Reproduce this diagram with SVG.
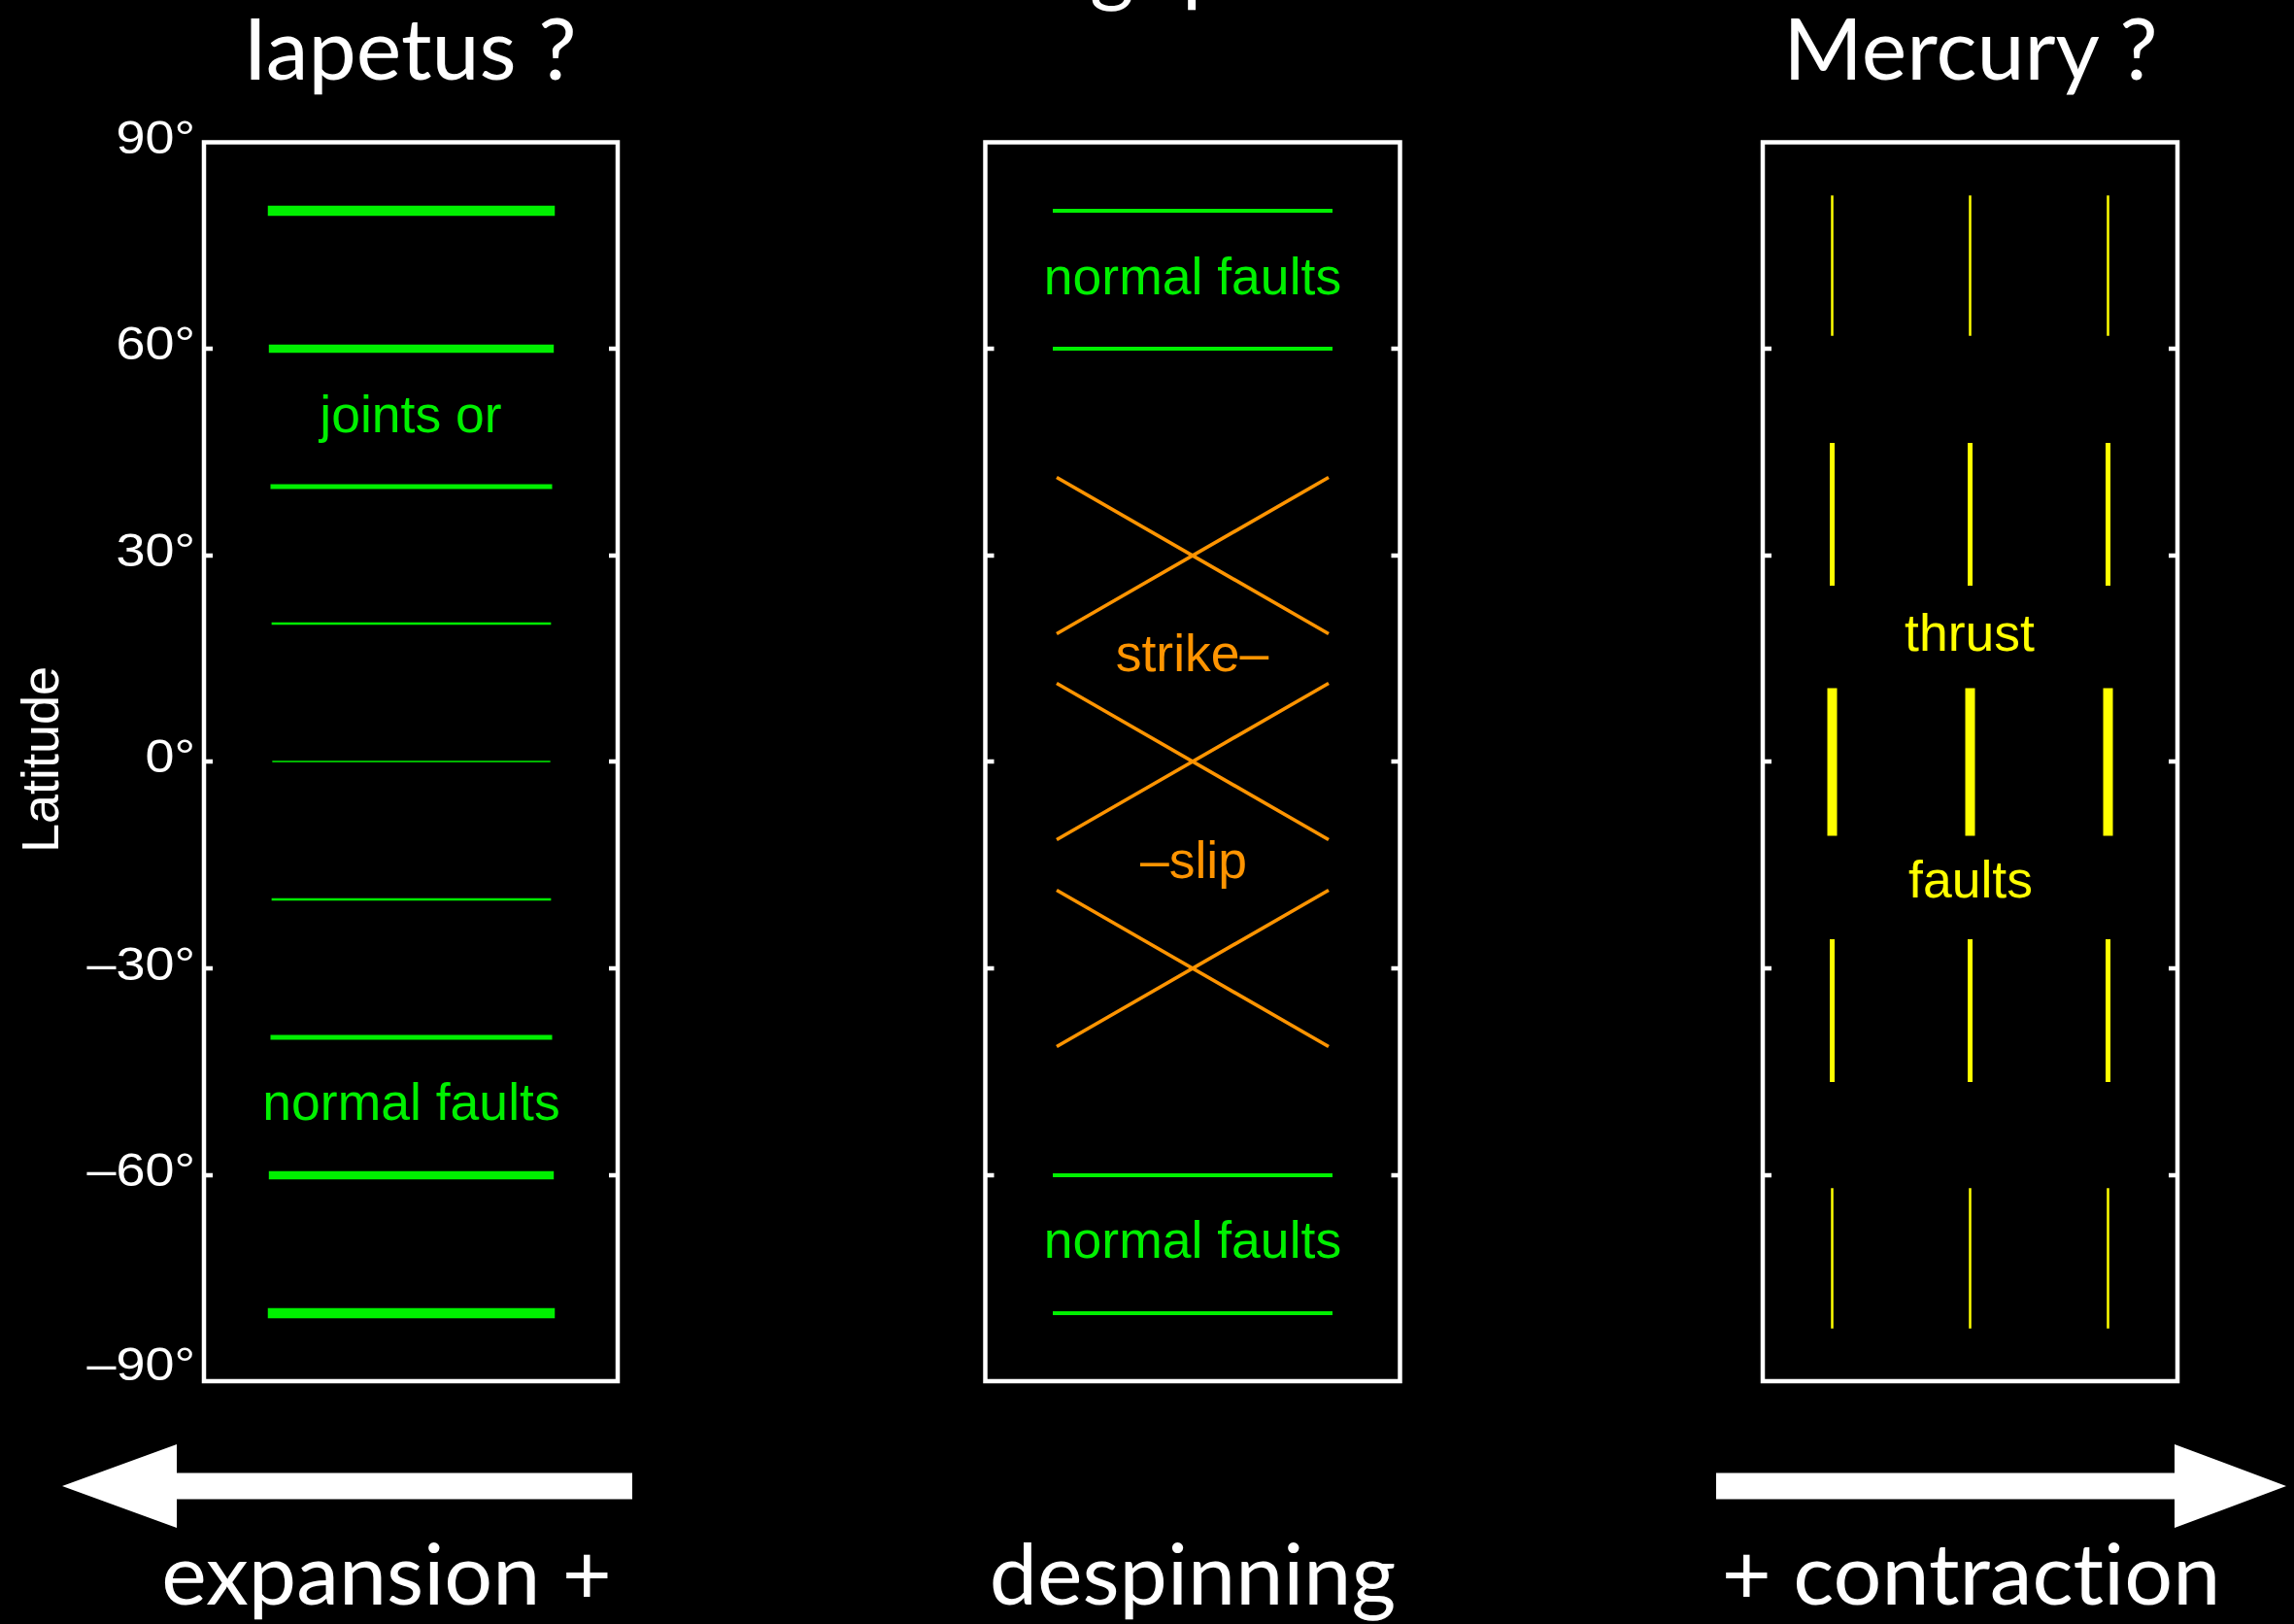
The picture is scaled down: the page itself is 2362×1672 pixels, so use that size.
<svg xmlns="http://www.w3.org/2000/svg" width="2362" height="1672" viewBox="0 0 2362 1672">
<style>
.frame{fill:none;stroke:#fff;stroke-width:4.5}
.tick{stroke:#fff;stroke-width:4.5}
.ax{font-family:"Liberation Sans",Arial,sans-serif;font-size:49px;fill:#fff;text-anchor:end}
.lbl{font-family:"Liberation Sans",Arial,sans-serif;font-size:53.5px;text-anchor:middle}
.big{font-family:Lato,"Open Sans",sans-serif;font-size:88px;fill:#fff;text-anchor:middle;font-variant-ligatures:none}
.gt{fill:#00f000}
.ot{fill:#ff9400}
.yt{fill:#ffff00}
.gl{stroke:#00f000;stroke-linecap:square}
.ol{stroke:#ff9400;stroke-width:3.6}
.yl{stroke:#ffff00;stroke-linecap:square}
.arrow{fill:#fff}
</style>
<rect width="2362" height="1672" fill="#000"/>

<!-- heading line above the top edge: only the descenders reach into view -->
<text font-family="Lato, 'Open Sans', sans-serif" font-size="88" fill="#fff"><tspan x="1122" y="-5">g</tspan><tspan x="1217" y="-5">p</tspan></text>

<!-- column headings -->
<g id="headings">
  <text class="big" x="422" y="82">Iapetus ?</text>
  <text class="big" x="2029" y="82">Mercury ?</text>
</g>

<!-- latitude axis -->
<g id="axis">
  <text class="ax" transform="translate(201,158) scale(1.1,1)">90°</text>
  <text class="ax" transform="translate(201,370) scale(1.1,1)">60°</text>
  <text class="ax" transform="translate(201,583) scale(1.1,1)">30°</text>
  <text class="ax" transform="translate(201,795) scale(1.1,1)">0°</text>
  <text class="ax" transform="translate(201,1009) scale(1.1,1)">–30°</text>
  <text class="ax" transform="translate(201,1221) scale(1.1,1)">–60°</text>
  <text class="ax" transform="translate(201,1421) scale(1.1,1)">–90°</text>
  <text transform="translate(60,782) rotate(-90)" font-family="Liberation Sans, Arial, sans-serif" font-size="54" fill="#fff" text-anchor="middle">Latitude</text>
</g>

<!-- expansion: east-west joints / normal faults, thickest near the poles -->
<g id="panel-iapetus">
  <rect class="frame" x="210" y="146.5" width="426" height="1275.5"/>
  <path class="tick" d="M210 359h9M210 572h9M210 784h9M210 997h9M210 1210h9M636 359h-9M636 572h-9M636 784h-9M636 997h-9M636 1210h-9"/>
  <line class="gl" x1="281" y1="217" x2="566" y2="217" stroke-width="10.5"/>
  <line class="gl" x1="281" y1="359" x2="566" y2="359" stroke-width="8.4"/>
  <line class="gl" x1="281" y1="501" x2="566" y2="501" stroke-width="5"/>
  <line class="gl" x1="281" y1="642" x2="566" y2="642" stroke-width="2.7"/>
  <line class="gl" x1="281" y1="784" x2="566" y2="784" stroke-width="1.3"/>
  <line class="gl" x1="281" y1="926" x2="566" y2="926" stroke-width="2.7"/>
  <line class="gl" x1="281" y1="1068" x2="566" y2="1068" stroke-width="5"/>
  <line class="gl" x1="281" y1="1210" x2="566" y2="1210" stroke-width="8.4"/>
  <line class="gl" x1="281" y1="1352" x2="566" y2="1352" stroke-width="10.5"/>
  <text class="lbl gt" x="423" y="445">joints or</text>
  <text class="lbl gt" x="423.5" y="1153">normal faults</text>
</g>

<!-- despinning: polar normal faults, strike-slip at mid latitudes -->
<g id="panel-despinning">
  <rect class="frame" x="1014.5" y="146.5" width="427" height="1275.5"/>
  <path class="tick" d="M1014.5 359h9M1014.5 572h9M1014.5 784h9M1014.5 997h9M1014.5 1210h9M1441.5 359h-9M1441.5 572h-9M1441.5 784h-9M1441.5 997h-9M1441.5 1210h-9"/>
  <line class="gl" x1="1086" y1="217" x2="1370" y2="217" stroke-width="4"/>
  <line class="gl" x1="1086" y1="359" x2="1370" y2="359" stroke-width="4"/>
  <line class="gl" x1="1086" y1="1210" x2="1370" y2="1210" stroke-width="4"/>
  <line class="gl" x1="1086" y1="1352" x2="1370" y2="1352" stroke-width="4"/>
  <path class="ol" d="M1088 491.5L1368 652.5M1088 652.5L1368 491.5"/>
  <path class="ol" d="M1088 703.5L1368 864.5M1088 864.5L1368 703.5"/>
  <path class="ol" d="M1088 916.5L1368 1077.5M1088 1077.5L1368 916.5"/>
  <text class="lbl gt" x="1228" y="303">normal faults</text>
  <text class="lbl ot" x="1227.5" y="691">strike–</text>
  <text class="lbl ot" x="1229" y="904">–slip</text>
  <text class="lbl gt" x="1228" y="1295">normal faults</text>
</g>

<!-- contraction: north-south thrust faults, thickest at the equator -->
<g id="panel-mercury">
  <rect class="frame" x="1815" y="146.5" width="427" height="1275.5"/>
  <path class="tick" d="M1815 359h9M1815 572h9M1815 784h9M1815 997h9M1815 1210h9M2242 359h-9M2242 572h-9M2242 784h-9M2242 997h-9M2242 1210h-9"/>
  <path class="yl" stroke-width="2.5" d="M1886.5 202.5v142M2028.5 202.5v142M2170.5 202.5v142"/>
  <path class="yl" stroke-width="5" d="M1886.5 458.5v142M2028.5 458.5v142M2170.5 458.5v142"/>
  <path class="yl" stroke-width="10" d="M1886.5 713.5v142M2028.5 713.5v142M2170.5 713.5v142"/>
  <path class="yl" stroke-width="5" d="M1886.5 969.5v142M2028.5 969.5v142M2170.5 969.5v142"/>
  <path class="yl" stroke-width="2.5" d="M1886.5 1224.5v142M2028.5 1224.5v142M2170.5 1224.5v142"/>
  <text class="lbl yt" x="2028" y="670">thrust</text>
  <text class="lbl yt" x="2029" y="924">faults</text>
</g>

<!-- direction arrows -->
<g id="arrows">
  <polygon class="arrow" points="64,1530 182,1487 182,1516.5 651,1516.5 651,1543.5 182,1543.5 182,1573"/>
  <polygon class="arrow" points="2354,1530 2239,1487 2239,1516.5 1767,1516.5 1767,1543.5 2239,1543.5 2239,1573"/>
</g>

<!-- bottom captions -->
<g id="captions">
  <text class="big" x="398" y="1652">expansion +</text>
  <text class="big" x="1228" y="1652">despinning</text>
  <text class="big" x="2029.5" y="1652">+ contraction</text>
</g>
</svg>
